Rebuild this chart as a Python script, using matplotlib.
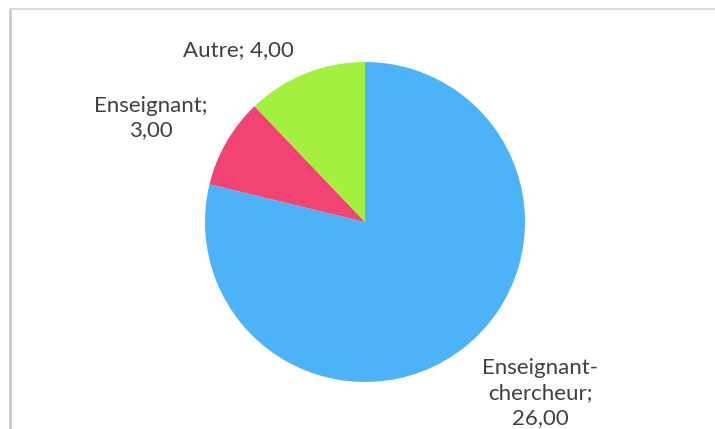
import matplotlib.pyplot as plt
from matplotlib.lines import Line2D

plt.rcParams['font.family'] = ['Lato', 'DejaVu Sans']

# données
categories = ["Enseignant-\nchercheur", "Enseignant", "Autre"]
valeurs = [26, 3, 4]
couleurs = ['#4DB3F8', '#F24373', '#A3F03F']

fig = plt.figure(figsize=(7.15, 4.29), dpi=100)
ax = fig.add_axes([0, 0, 1, 1])

ax.pie(valeurs, colors=couleurs, startangle=90, counterclock=False,
       center=(365, 207), radius=160, wedgeprops=dict(linewidth=0))

# repère en pixels (pie() modifie les limites)
ax.set_xlim(0, 715)
ax.set_ylim(0, 429)
ax.set_aspect('equal')
ax.axis('off')

# étiquettes "catégorie; valeur"
positions = [(540, 36), (151, 311), (238, 379)]
sep = [";\n", ";\n", "; "]
for cat, val, (x, y), s in zip(categories, valeurs, positions, sep):
    txt = cat + s + ("%.2f" % val).replace('.', ',')
    ax.text(x, y, txt, ha='center', va='center', fontsize=16,
            color='#404040', linespacing=1.3)

# cadre gris
fig.add_artist(Line2D([10 / 715, 10 / 715], [0, 1 - 9 / 429], color='#c5cfcf', lw=2))
fig.add_artist(Line2D([10 / 715, 1], [1 - 9 / 429, 1 - 9 / 429], color='#d5dede', lw=1.5))

fig.savefig('out.png', dpi=100)
